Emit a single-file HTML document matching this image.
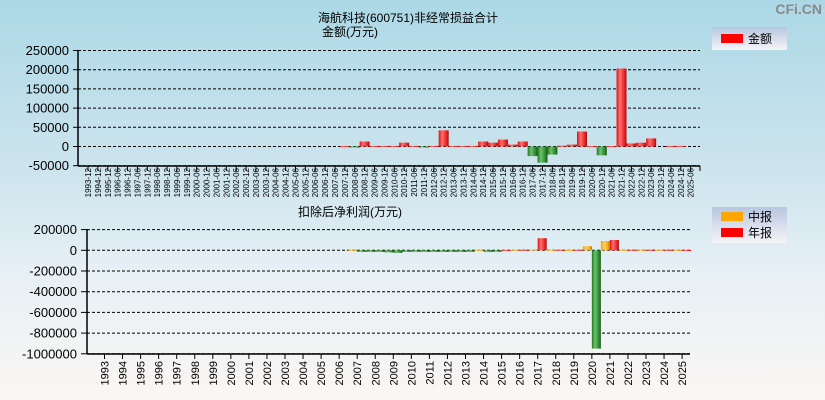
<!DOCTYPE html>
<html><head><meta charset="utf-8">
<style>
html,body{margin:0;padding:0}
body{width:825px;height:400px;overflow:hidden;background:linear-gradient(#acd8e6,#cfe5ee 45%,#e4eff5 65%,#fbf6f3);font-family:"Liberation Sans","Noto Sans CJK SC",sans-serif}
svg{position:absolute;left:0;top:0}
</style></head>
<body>
<svg id="c" width="825" height="400" xmlns="http://www.w3.org/2000/svg">
<defs>
<linearGradient id="gr" x1="0" x2="1" y1="0" y2="0"><stop offset="0" stop-color="#e01010"/><stop offset="0.35" stop-color="#ff7070"/><stop offset="0.8" stop-color="#e82020"/><stop offset="1" stop-color="#a01010"/></linearGradient>
<linearGradient id="gg" x1="0" x2="1" y1="0" y2="0"><stop offset="0" stop-color="#1e7a1e"/><stop offset="0.35" stop-color="#6fbf6f"/><stop offset="0.8" stop-color="#2a8a2a"/><stop offset="1" stop-color="#145214"/></linearGradient>
<linearGradient id="go" x1="0" x2="1" y1="0" y2="0"><stop offset="0" stop-color="#f0a000"/><stop offset="0.35" stop-color="#ffd060"/><stop offset="0.8" stop-color="#f4a810"/><stop offset="1" stop-color="#b07000"/></linearGradient>
<linearGradient id="lg" x1="0" x2="0" y1="0" y2="1"><stop offset="0" stop-color="#b8c6e0"/><stop offset="1" stop-color="#f6f4f8"/></linearGradient>
</defs>
<text x="408" y="22" font-size="12" text-anchor="middle">海航科技(600751)非经常损益合计</text>
<text x="350" y="36" font-size="12" text-anchor="middle">金额(万元)</text>
<text x="822" y="14" font-size="14" font-weight="bold" fill="#8a8a8a" text-anchor="end">CFi.CN</text>
<g>
<rect x="712" y="27" width="75" height="23" fill="url(#lg)"/>
<rect x="721" y="34" width="22" height="9" fill="#ff0000"/>
<text x="748" y="43" font-size="12">金额</text>
</g>
<text x="350" y="216" font-size="12" text-anchor="middle">扣除后净利润(万元)</text>
<g>
<rect x="712" y="207" width="75" height="36" fill="url(#lg)"/>
<rect x="721" y="212" width="22" height="9" fill="#ffa500"/>
<text x="748" y="221" font-size="12">中报</text>
<rect x="721" y="228" width="22" height="9" fill="#ff0000"/>
<text x="748" y="237" font-size="12">年报</text>
</g>
<g id="top"></g><g id="bot"></g>
</svg>
<script>
const topTicks=[-50000,0,50000,100000,150000,200000,250000];
const topValues=[0,0,0,0,0,0,0,0,0,0,0,0,0,0,0,0,0,0,0,0,0,0,0,0,0,0,1000,-1000,13000,1500,1500,1500,10000,1500,-1000,1500,42000,1500,1500,1500,13000,10000,18000,5000,13000,-25000,-42000,-21000,2000,5000,39000,1000,-23000,1000,203000,8000,10000,21000,0,1500,1500,0];
const topLabels=(function(){const a=['1993-12','1994-12','1995-12'];for(let y=1996;y<=2025;y++){a.push(y+'-06');if(y<2025)a.push(y+'-12');}return a;})();
const years=[];for(let y=1993;y<=2025;y++)years.push(String(y));
const botTicks=[-1000000,-800000,-600000,-400000,-200000,0,200000];
const halfValues=[0,0,0,0,0,0,0,0,0,0,0,0,0,0,5000,-15000,-20000,-15000,-15000,-15000,-15000,5000,-15000,5000,8000,5000,3000,40000,90000,5000,5000,5000,5000];
const annualValues=[0,0,0,0,0,0,0,0,0,0,0,0,0,0,-15000,-15000,-25000,-15000,-15000,-15000,-15000,-15000,3000,5000,117000,5000,5000,-950000,100000,5000,5000,5000,3000];

const NS='http://www.w3.org/2000/svg';
function el(p,t,a){const e=document.createElementNS(NS,t);for(const k in a)e.setAttribute(k,a[k]);p.appendChild(e);return e;}
// top chart
const T=document.getElementById('top');
const ty=v=>146.5-(v)*96/250000;
const tx=i=>88+i*9.88;
topTicks.forEach(v=>{
 const g=el(T,'line',{x1:78,x2:700,y1:ty(v),y2:ty(v),stroke:'#000','stroke-dasharray':'3,2','stroke-width':1});
 
 
 el(T,'line',{x1:73,x2:78,y1:ty(v),y2:ty(v),stroke:'#000'});
 const t=el(T,'text',{x:69,y:ty(v)+4.5,'font-size':13,'text-anchor':'end'});t.textContent=v;
 
 
});
topValues.forEach((v,i)=>{
 if(!v)return;const y0=ty(0),y1=ty(v);
 const r=el(T,'rect',{x:tx(i)-5,y:Math.min(y0,y1),width:10,height:Math.max(1,Math.abs(y1-y0)),fill:v>0?'url(#gr)':'url(#gg)'});
 
 
});
el(T,'line',{x1:78,x2:78,y1:50,y2:166,stroke:'#000','stroke-width':1.5});
el(T,'line',{x1:78,x2:700,y1:166,y2:166,stroke:'#000','stroke-width':1.5});
el(T,'line',{x1:700,x2:700,y1:166,y2:171,stroke:'#000'});
topLabels.forEach((l,i)=>{
 el(T,'line',{x1:tx(i),x2:tx(i),y1:166,y2:171,stroke:'#000'});
 const t=el(T,'text',{x:0,y:0,'font-size':8,'text-anchor':'end',transform:`translate(${tx(i)+3},168) rotate(-90)`});t.textContent=l;
 
 
});
// bottom chart
const B=document.getElementById('bot');
const by=v=>250.3-v*103.5/1000000;
const bx=i=>104.5+i*18.05;
botTicks.forEach(v=>{
 const g=el(B,'line',{x1:87,x2:690,y1:by(v),y2:by(v),stroke:'#000','stroke-dasharray':'3,2'});
 
 
 el(B,'line',{x1:81,x2:87,y1:by(v),y2:by(v),stroke:'#000'});
 const t=el(B,'text',{x:77,y:by(v)+4.5,'font-size':13,'text-anchor':'end'});t.textContent=v;
 
 
});
function bar(v,x,pos){if(!v)return;const y0=by(0),y1=by(v);
 const r=el(B,'rect',{x:x,y:Math.min(y0,y1),width:9,height:Math.max(1,Math.abs(y1-y0)),fill:v<0?'url(#gg)':pos});
 
 }
halfValues.forEach((v,i)=>bar(v,bx(i)-9,'url(#go)'));
annualValues.forEach((v,i)=>bar(v,bx(i),'url(#gr)'));
el(B,'line',{x1:87,x2:87,y1:229,y2:354,stroke:'#000','stroke-width':1.5});
el(B,'line',{x1:87,x2:690,y1:354,y2:354,stroke:'#000','stroke-width':1.5});
years.forEach((l,i)=>{
 el(B,'line',{x1:bx(i),x2:bx(i),y1:354,y2:359,stroke:'#000'});
 const t=el(B,'text',{x:0,y:0,'font-size':11,'text-anchor':'end',transform:`translate(${bx(i)+4},361) rotate(-90)`});t.textContent=l;
 
 
});
</script>
</body></html>
